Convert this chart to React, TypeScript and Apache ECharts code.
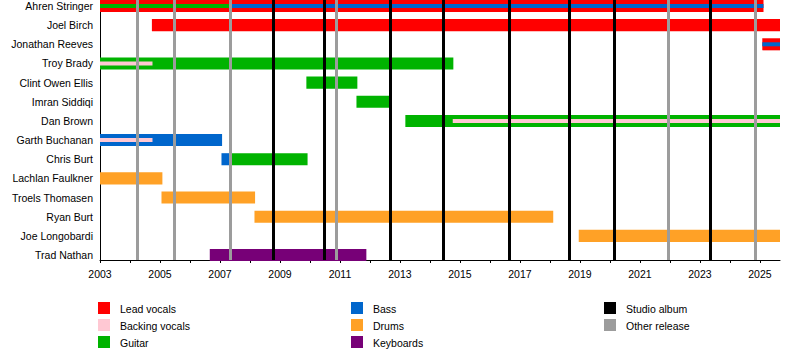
import React, { useEffect, useRef } from "react";
import * as echarts from "echarts";

const members = [
  "Ahren Stringer",
  "Joel Birch",
  "Jonathan Reeves",
  "Troy Brady",
  "Clint Owen Ellis",
  "Imran Siddiqi",
  "Dan Brown",
  "Garth Buchanan",
  "Chris Burt",
  "Lachlan Faulkner",
  "Troels Thomasen",
  "Ryan Burt",
  "Joe Longobardi",
  "Trad Nathan",
];

// [member index, start year, end year, 1 = thin inner stripe]
const leadVocals = [
  [0, 2003, 2025.12, 0],
  [1, 2004.73, 2025.67, 0],
  [2, 2025.08, 2025.67, 0],
];
const backingVocals = [
  [3, 2003, 2004.75, 1],
  [6, 2014.76, 2025.67, 1],
  [7, 2003, 2004.75, 1],
];
const guitar = [
  [0, 2003, 2007.33, 1],
  [3, 2003, 2014.78, 0],
  [4, 2009.88, 2011.58, 0],
  [5, 2011.55, 2012.65, 0],
  [6, 2013.18, 2025.67, 0],
  [8, 2007.37, 2009.92, 0],
];
const bass = [
  [0, 2007.33, 2025.12, 1],
  [2, 2025.08, 2025.67, 1],
  [7, 2003, 2007.07, 0],
  [8, 2007.05, 2007.37, 0],
];
const drums = [
  [9, 2003, 2005.08, 0],
  [10, 2005.05, 2008.17, 0],
  [11, 2008.15, 2018.11, 0],
  [12, 2018.96, 2025.67, 0],
];
const keyboards = [[13, 2006.66, 2011.88, 0]];

const studioAlbums = [2008.76, 2010.46, 2012.67, 2014.43, 2016.63, 2018.66, 2020.16, 2023.36];
const otherReleases = [2004.23, 2005.49, 2007.33, 2010.89, 2021.96, 2024.83];

const yearTicks = [
  2003, 2004, 2005, 2006, 2007, 2008, 2009, 2010, 2011, 2012, 2013, 2014,
  2015, 2016, 2017, 2018, 2019, 2020, 2021, 2022, 2023, 2024, 2025,
];
const yearLabels = [2003, 2005, 2007, 2009, 2011, 2013, 2015, 2017, 2019, 2021, 2023, 2025];
const startYear = 2003;
const endYear = 2025.67;

const COLORS = {
  lead: "#ff0000",
  backing: "#ffc8d3",
  guitar: "#00b300",
  bass: "#0066cc",
  drums: "#ffa126",
  keys: "#770077",
  studio: "#000000",
  other: "#9c9c9c",
};

const FONT = "'Liberation Sans', Arial, sans-serif";

const legendCols = [
  [
    ["Lead vocals", COLORS.lead],
    ["Backing vocals", COLORS.backing],
    ["Guitar", COLORS.guitar],
  ],
  [
    ["Bass", COLORS.bass],
    ["Drums", COLORS.drums],
    ["Keyboards", COLORS.keys],
  ],
  [
    ["Studio album", COLORS.studio],
    ["Other release", COLORS.other],
  ],
];

function barSeries(name: string, data: number[][], color: string) {
  return {
    name,
    type: "custom",
    z: 3,
    encode: { x: [1, 2], y: 0 },
    data,
    renderItem: (params: any, api: any) => {
      const row = api.value(0);
      const s = api.value(1);
      const e = api.value(2);
      const thin = api.value(3);
      const p0 = api.coord([s, row]);
      const p1 = api.coord([e, row]);
      const unit = Math.abs(api.size([0, 1])[1]);
      const h = unit * (thin ? 0.21 : 0.63);
      return {
        type: "rect",
        shape: { x: p0[0], y: p0[1] - h / 2, width: p1[0] - p0[0], height: h },
        style: { fill: color },
        z2: thin ? 10 : 5,
      };
    },
  };
}

export default function App() {
  const ref = useRef<HTMLDivElement>(null);
  useEffect(() => {
    if (!ref.current) return;
    const chart = echarts.init(ref.current, null, { renderer: "svg" });

    const graphics: any[] = [];
    const colX = [98, 351, 604];
    const rowY = [302, 319, 336];
    legendCols.forEach((col, ci) => {
      col.forEach((item, ri) => {
        graphics.push({
          type: "rect",
          left: colX[ci],
          top: rowY[ri],
          shape: { width: 12, height: 12 },
          style: { fill: item[1] },
        });
        graphics.push({
          type: "text",
          left: colX[ci] + 22,
          top: rowY[ri] + 1,
          style: {
            text: item[0],
            fill: "#000",
            font: `10.5px ${FONT}`,
          },
        });
      });
    });

    chart.setOption({
      animation: false,
      backgroundColor: "#ffffff",
      textStyle: { fontFamily: FONT },
      grid: { left: 100, top: 0, width: 680, height: 260, containLabel: false },
      xAxis: {
        type: "value",
        min: startYear,
        max: endYear,
        interval: 1,
        axisLine: { show: true, onZero: false, lineStyle: { color: "#000", width: 1 } },
        axisTick: {
          show: true,
          length: 3,
          customValues: yearTicks,
          lineStyle: { color: "#000" },
        },
        axisLabel: {
          customValues: yearLabels,
          color: "#000",
          fontSize: 10.5,
          fontFamily: FONT,
          margin: 8,
          formatter: (v: number) => String(v),
        },
        splitLine: { show: false },
      },
      yAxis: {
        type: "value",
        inverse: true,
        min: -0.313,
        max: 13.261,
        axisLine: { show: true, onZero: false, lineStyle: { color: "#000", width: 1 } },
        axisTick: { show: false },
        splitLine: { show: false },
        axisLabel: {
          customValues: members.map((_, i) => i),
          formatter: (v: number) => members[Math.round(v)] ?? "",
          color: "#000",
          fontSize: 10.5,
          fontFamily: FONT,
          margin: 7,
        },
      },
      graphic: graphics,
      series: [
        {
          type: "line",
          data: [],
          z: 1,
          silent: true,
          markLine: {
            silent: true,
            symbol: "none",
            label: { show: false },
            animation: false,
            data: [
              ...otherReleases.map((v) => ({ xAxis: v, lineStyle: { color: COLORS.other, width: 3, type: "solid" } })),
              ...studioAlbums.map((v) => ({ xAxis: v, lineStyle: { color: COLORS.studio, width: 3, type: "solid" } })),
            ],
          },
        },
        barSeries("Lead vocals", leadVocals, COLORS.lead),
        barSeries("Backing vocals", backingVocals, COLORS.backing),
        barSeries("Guitar", guitar, COLORS.guitar),
        barSeries("Bass", bass, COLORS.bass),
        barSeries("Drums", drums, COLORS.drums),
        barSeries("Keyboards", keyboards, COLORS.keys),
      ],
    });
    return () => chart.dispose();
  }, []);
  return (
    <div
      ref={ref}
      style={{ position: "fixed", left: 0, top: 0, width: 800, height: 360, background: "#fff" }}
    />
  );
}
